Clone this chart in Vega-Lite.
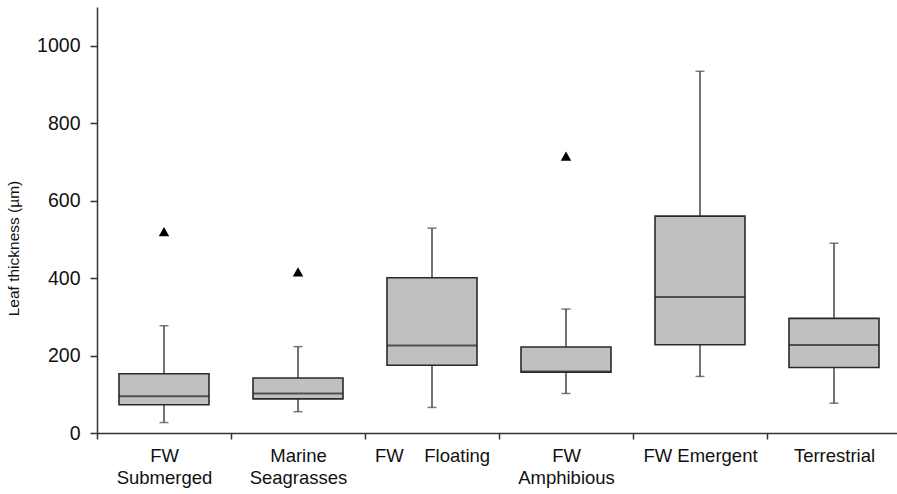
{
  "$schema": "https://vega.github.io/schema/vega-lite/v6.json",
  "autosize": {"type": "none"},
  "padding": {"left": 97, "top": 7, "right": 0, "bottom": 61},
  "width": 804,
  "height": 426,
  "background": "white",
  "config": {
    "view": {"stroke": null},
    "font": "Liberation Sans",
    "axis": {"grid": false, "domainColor": "#333", "tickColor": "#333", "labelColor": "#111", "titleColor": "#111", "domainWidth": 1.5, "tickWidth": 1.5}
  },
  "data": {
    "values": [
      {"group": "FW|Submerged", "lower": 27, "q1": 73, "median": 95, "q3": 153, "upper": 277, "outlier": 520},
      {"group": "Marine|Seagrasses", "lower": 55, "q1": 88, "median": 102, "q3": 142, "upper": 223, "outlier": 416},
      {"group": "FW\u00a0\u00a0\u00a0\u00a0Floating", "lower": 66, "q1": 175, "median": 226, "q3": 401, "upper": 529, "outlier": null},
      {"group": "FW|Amphibious", "lower": 102, "q1": 157, "median": 159, "q3": 222, "upper": 320, "outlier": 715},
      {"group": "FW Emergent", "lower": 146, "q1": 228, "median": 351, "q3": 560, "upper": 934, "outlier": null},
      {"group": "Terrestrial", "lower": 77, "q1": 169, "median": 227, "q3": 296, "upper": 490, "outlier": null}
    ]
  },
  "encoding": {
    "x": {
      "field": "group", "type": "nominal", "sort": null,
      "scale": {"paddingInner": 0, "paddingOuter": 0},
      "axis": {
        "title": null, "labelAngle": 0, "tickBand": "extent", "tickSize": 6,
        "labelFontSize": 18.5, "labelPadding": 7, "labelBaseline": "top", "labelLineHeight": 22,
        "labelExpr": "split(datum.label, '|')"
      }
    }
  },
  "layer": [
    {
      "mark": {"type": "rule", "color": "#444", "strokeWidth": 1.5},
      "encoding": {
        "y": {"field": "lower", "type": "quantitative", "scale": {"domain": [0, 1100], "nice": false},
          "axis": {"values": [0, 200, 400, 600, 800, 1000], "format": "d", "tickSize": 7, "labelFontSize": 19.5, "labelPadding": 10,
            "title": "Leaf thickness (µm)", "titleFontSize": 15.5, "titleFontWeight": "normal", "titleX": -84, "titleY": 241, "titleBaseline": "middle", "titleAlign": "center", "titleAngle": -90}},
        "y2": {"field": "upper"}
      }
    },
    {
      "mark": {"type": "bar", "size": 90, "fill": "#c0c0c0", "stroke": "#2a2a2a", "strokeWidth": 1.6},
      "encoding": {
        "y": {"field": "q1", "type": "quantitative"},
        "y2": {"field": "q3"}
      }
    },
    {
      "mark": {"type": "tick", "size": 90, "thickness": 2, "color": "#222"},
      "encoding": {"y": {"field": "median", "type": "quantitative"}}
    },
    {
      "mark": {"type": "tick", "size": 9, "thickness": 1.5, "color": "#444"},
      "encoding": {"y": {"field": "lower", "type": "quantitative"}}
    },
    {
      "mark": {"type": "tick", "size": 9, "thickness": 1.5, "color": "#444"},
      "encoding": {"y": {"field": "upper", "type": "quantitative"}}
    },
    {
      "transform": [{"filter": "datum.outlier != null"}],
      "mark": {"type": "point", "shape": "triangle-up", "filled": true, "color": "#000", "size": 110, "opacity": 1},
      "encoding": {"y": {"field": "outlier", "type": "quantitative"}}
    }
  ]
}
